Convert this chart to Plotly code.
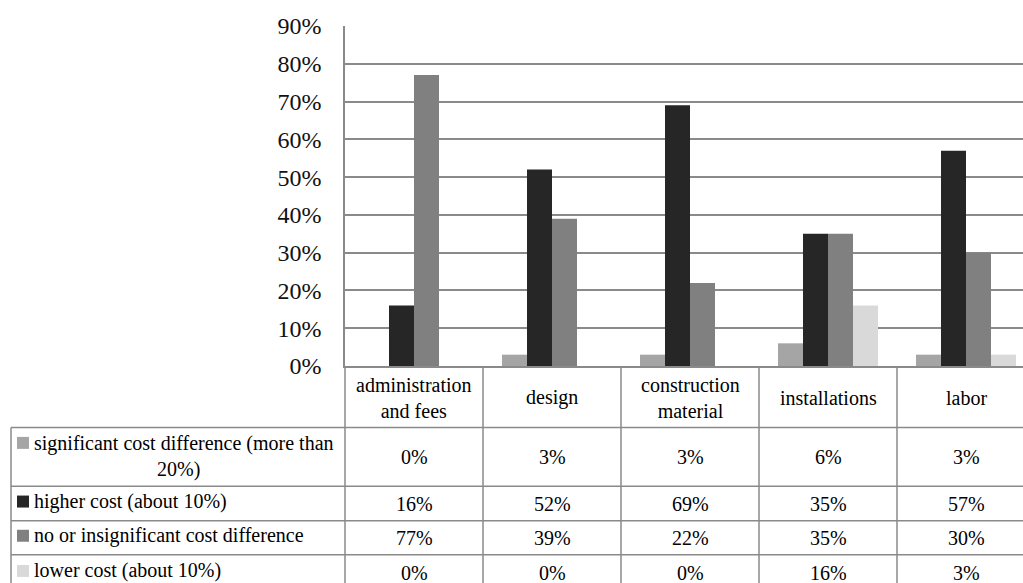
import plotly.graph_objects as go

# Cost categories and survey answers (percent of respondents)
categories = ["administration and fees", "design", "construction material", "installations", "labor"]
header_lines = [["administration", "and fees"], ["design"], ["construction", "material"], ["installations"], ["labor"]]

series_names = [
    "significant cost difference (more than 20%)",
    "higher cost (about 10%)",
    "no or insignificant cost difference",
    "lower cost (about 10%)",
]
significant_diff = [0, 3, 3, 6, 3]
higher_cost = [16, 52, 69, 35, 57]
no_diff = [77, 39, 22, 35, 30]
lower_cost = [0, 0, 0, 16, 3]

series_values = [significant_diff, higher_cost, no_diff, lower_cost]
series_colors = ["#a5a5a5", "#262626", "#808080", "#d9d9d9"]

y_ticks = list(range(0, 91, 10))
y_tick_labels = [f"{t}%" for t in y_ticks]

# Page geometry (pixels)
W, H = 1023, 583
PLOT_L, PLOT_R, PLOT_T, PLOT_B = 345, 1023, 26, 366.5
COL_W = 138
TABLE_L = 11
ROW_Y = [366.5, 428, 487, 521.5, 555.5, 592]
LINE_COLOR = "#8a8a8a"
FONT = "Liberation Serif"
TXT_SIZE = 20


def px(x):
    return (x - PLOT_L) / (PLOT_R - PLOT_L)


def py(y):
    return (PLOT_B - y) / (PLOT_B - PLOT_T)


def txt_font():
    return dict(family=FONT, size=TXT_SIZE, color="#000000")


fig = go.Figure()
for name, vals, col in zip(series_names, series_values, series_colors):
    fig.add_trace(go.Bar(
        x=list(range(len(categories))), y=vals, name=name,
        marker=dict(color=col, line=dict(width=0)),
        hovertext=categories,
    ))

shapes = []
annotations = []

# horizontal table rules
for y in ROW_Y[1:-1]:
    shapes.append(dict(type="line", xref="paper", yref="paper",
                       x0=px(TABLE_L), x1=px(W + 5), y0=py(y), y1=py(y),
                       line=dict(color=LINE_COLOR, width=1.5)))
# vertical table rules
shapes.append(dict(type="line", xref="paper", yref="paper",
                   x0=px(TABLE_L), x1=px(TABLE_L), y0=py(ROW_Y[1]), y1=py(H + 5),
                   line=dict(color=LINE_COLOR, width=1.5)))
for k in range(len(categories) + 1):
    xk = PLOT_L + k * COL_W
    if xk > W:
        break
    shapes.append(dict(type="line", xref="paper", yref="paper",
                       x0=px(xk), x1=px(xk), y0=py(PLOT_B), y1=py(H + 5),
                       line=dict(color=LINE_COLOR, width=1.5)))

# column headers
for k, lines in enumerate(header_lines):
    cx = PLOT_L + (k + 0.5) * COL_W
    annotations.append(dict(xref="paper", yref="paper", x=px(cx), y=py((ROW_Y[0] + ROW_Y[1]) / 2 + 1),
                            text="<br>".join(lines), showarrow=False, xanchor="center", yanchor="middle",
                            font=txt_font(), align="center"))

# row labels with legend keys, and value cells
for r, (name, vals, col) in enumerate(zip(series_names, series_values, series_colors)):
    y_top, y_bot = ROW_Y[r + 1], ROW_Y[r + 2]
    y_mid = (y_top + y_bot) / 2
    if r == 0:
        key_y = y_top + 15.5
        annotations.append(dict(xref="paper", yref="paper", x=px(32), y=py(key_y + 1),
                                text="significant cost difference (more than", showarrow=False,
                                xanchor="left", yanchor="middle", font=txt_font()))
        annotations.append(dict(xref="paper", yref="paper", x=px((TABLE_L + PLOT_L) / 2), y=py(key_y + 27),
                                text="20%)", showarrow=False, xanchor="center", yanchor="middle",
                                font=txt_font()))
    else:
        key_y = y_mid - 2
        annotations.append(dict(xref="paper", yref="paper", x=px(32), y=py(key_y),
                                text=name, showarrow=False, xanchor="left", yanchor="middle",
                                font=txt_font()))
    shapes.append(dict(type="rect", xref="paper", yref="paper",
                       x0=px(17), x1=px(29), y0=py(key_y - 6), y1=py(key_y + 6),
                       fillcolor=col, line=dict(width=0)))
    for k, v in enumerate(vals):
        cx = PLOT_L + (k + 0.5) * COL_W
        annotations.append(dict(xref="paper", yref="paper", x=px(cx), y=py(y_mid),
                                text=f"{v}%", showarrow=False, xanchor="center", yanchor="middle",
                                font=txt_font()))

fig.update_layout(
    width=W, height=H,
    margin=dict(l=PLOT_L, r=W - PLOT_R, t=PLOT_T, b=H - PLOT_B, pad=0),
    paper_bgcolor="white", plot_bgcolor="white",
    font=dict(family=FONT, color="#000000"),
    barmode="group", bargap=38 / COL_W, bargroupgap=0,
    showlegend=False,
    shapes=shapes, annotations=annotations,
    xaxis=dict(range=[-0.5, -0.5 + (PLOT_R - PLOT_L) / COL_W], showticklabels=False,
               showgrid=False, zeroline=False, showline=True, linecolor=LINE_COLOR, linewidth=1.5,
               fixedrange=True),
    yaxis=dict(range=[0, 90], tickmode="array", tickvals=y_ticks, ticktext=y_tick_labels,
               showgrid=True, gridcolor=LINE_COLOR, gridwidth=1.5, zeroline=False, showline=True,
               linecolor=LINE_COLOR, linewidth=1.5, ticks="", ticklabelstandoff=17,
               tickfont=dict(family=FONT, size=24, color="#111111"), fixedrange=True),
)

fig.write_html("out.html")
